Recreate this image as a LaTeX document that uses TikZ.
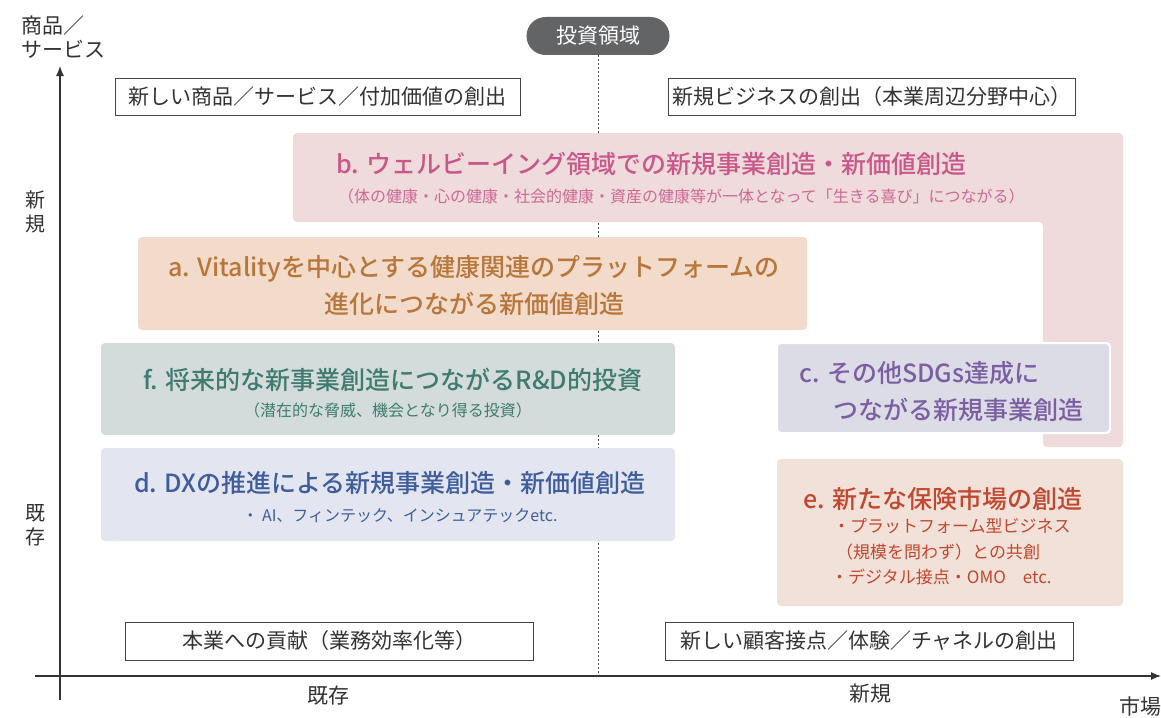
\documentclass[tikz,border=0pt]{standalone}
\usepackage{fontspec}
\setmainfont{Noto Sans CJK JP}
\newfontfamily\jpmed{Noto Sans CJK JP Medium}
\usetikzlibrary{arrows.meta}
\definecolor{txtgray}{HTML}{333333}
\definecolor{linegray}{HTML}{444444}
\definecolor{pillgray}{HTML}{636466}
\definecolor{bfill}{HTML}{EFDADC}
\definecolor{bcol}{HTML}{C8588A}
\definecolor{bsub}{HTML}{CC6A95}
\definecolor{afill}{HTML}{F2DBCA}
\definecolor{acol}{HTML}{B8763A}
\definecolor{ffill}{HTML}{D3DCDA}
\definecolor{fcol}{HTML}{3F7B70}
\definecolor{cfill}{HTML}{DCDCE7}
\definecolor{ccol}{HTML}{7C5FA3}
\definecolor{dfill}{HTML}{E3E6F0}
\definecolor{dcol}{HTML}{3F5D9B}
\definecolor{efill}{HTML}{F1E1D8}
\definecolor{ecol}{HTML}{C2472F}
\begin{document}
\begin{tikzpicture}[x=1pt,y=-1pt,
  lbl/.style={draw=linegray, fill=white, line width=0.9pt, text=txtgray,
    font=\fontsize{21}{24}\selectfont, inner sep=0pt},
  panel/.style={rounded corners=4pt, inner sep=0pt},
  ttl/.style={font=\jpmed\fontsize{25}{37}\selectfont, inner sep=0pt},
  subt/.style={font=\fontsize{16}{20}\selectfont, inner sep=0pt},
  esub/.style={font=\fontsize{17}{20}\selectfont, inner sep=0pt, text=ecol, anchor=west},
  axlbl/.style={font=\fontsize{21}{25}\selectfont, text=txtgray, inner sep=0pt},
  axis/.style={line width=1.2pt, draw=txtgray, -{Latex[length=10pt,width=8pt]}},
  dline/.style={line width=0.9pt, draw=linegray, dash pattern=on 2pt off 2pt}
]
\useasboundingbox (0,0) rectangle (1161,717);

% axes
\coordinate (ybot) at (60,700);
\coordinate (ytop) at (60,66);
\coordinate (xl) at (35,676);
\coordinate (xr) at (1161,676);
\draw[axis] (ybot) -- (ytop);
\draw[axis] (xl) -- (xr);

% axis labels
\node[axlbl, align=left, anchor=north west, font=\fontsize{21}{24}\selectfont] (ylab) at (21,16) {商品／\\サービス};
\node[axlbl] (xlab) at (1140,706) {市場};
\node[axlbl] (xold) at (328,696) {既存};
\node[axlbl] (xnew) at (870,694) {新規};
\node[axlbl, align=center, font=\fontsize{20}{24}\selectfont] (ynew) at (35,212) {新\\規};
\node[axlbl, align=center, font=\fontsize{20}{24}\selectfont] (yold) at (35,525) {既\\存};

% pill and dashed divider
\node[fill=pillgray, text=white, rounded corners=19pt, minimum width=143pt, minimum height=38pt,
  inner sep=0pt, font=\fontsize{21}{24}\selectfont] (pill) at (598,36) {投資領域};
\coordinate (dend) at (598,676);
\draw[dline] (pill.south) -- (dend);

% label boxes
\node[lbl, minimum width=405pt, minimum height=37pt] (l1) at (317.5,96.5) {新しい商品／サービス／付加価値の創出};
\node[lbl, minimum width=407pt, minimum height=37pt] (l2) at (871.5,96.5) {新規ビジネスの創出（本業周辺分野中心）};
\node[lbl, minimum width=408pt, minimum height=38pt] (l3) at (329,641) {本業への貢献（業務効率化等）};
\node[lbl, minimum width=408pt, minimum height=38pt] (l4) at (869,641) {新しい顧客接点／体験／チャネルの創出};

% b panel (L-shape)
\fill[bfill, rounded corners=4pt] (293,133) -- (1123,133) -- (1123,447) -- (1043,447) -- (1043,222) -- (293,222) -- cycle;
\node[ttl, text=bcol, anchor=west] (bt) at (336,164) {b. ウェルビーイング領域での新規事業創造・新価値創造};
\node[subt, text=bsub, anchor=west] (bs) at (338,196) {（体の健康・心の健康・社会的健康・資産の健康等が一体となって「生きる喜び」につながる）};

% a panel
\node[panel, fill=afill, minimum width=669pt, minimum height=93pt] (a) at (472.5,283.5) {};
\node[ttl, text=acol, align=center] (at) at (474,286) {a. Vitalityを中心とする健康関連のプラットフォームの\\進化につながる新価値創造};

% f panel
\node[panel, fill=ffill, minimum width=574pt, minimum height=92pt] (f) at (388,389) {};
\node[ttl, text=fcol] (ft) at (393,380) {f. 将来的な新事業創造につながるR\&D的投資};
\node[subt, text=fcol] (fs) at (388,410) {（潜在的な脅威、機会となり得る投資）};

% c panel
\node[panel, fill=cfill, draw=white, line width=2pt, minimum width=333pt, minimum height=90pt] (c) at (943.5,388) {};
\node[ttl, text=ccol, anchor=west] (ct1) at (799,373) {c. その他SDGs達成に};
\node[ttl, text=ccol, anchor=west] (ct2) at (833,410) {つながる新規事業創造};

% d panel
\node[panel, fill=dfill, minimum width=574pt, minimum height=93pt] (d) at (388,494.5) {};
\node[ttl, text=dcol] (dt) at (390,483) {d. DXの推進による新規事業創造・新価値創造};
\node[subt, text=dcol] (ds) at (400,516) {・ AI、フィンテック、インシュアテックetc.};

% e panel
\node[panel, fill=efill, minimum width=346pt, minimum height=147pt] (e) at (950,532.5) {};
\node[ttl, text=ecol, anchor=west] (et) at (803,499) {e. 新たな保険市場の創造};
\node[esub] (e1) at (833,526) {・プラットフォーム型ビジネス};
\node[esub] (e2) at (836,552) {（規模を問わず）との共創};
\node[esub] (e3) at (831,577) {・デジタル接点・OMO　etc.};
\end{tikzpicture}
\end{document}
